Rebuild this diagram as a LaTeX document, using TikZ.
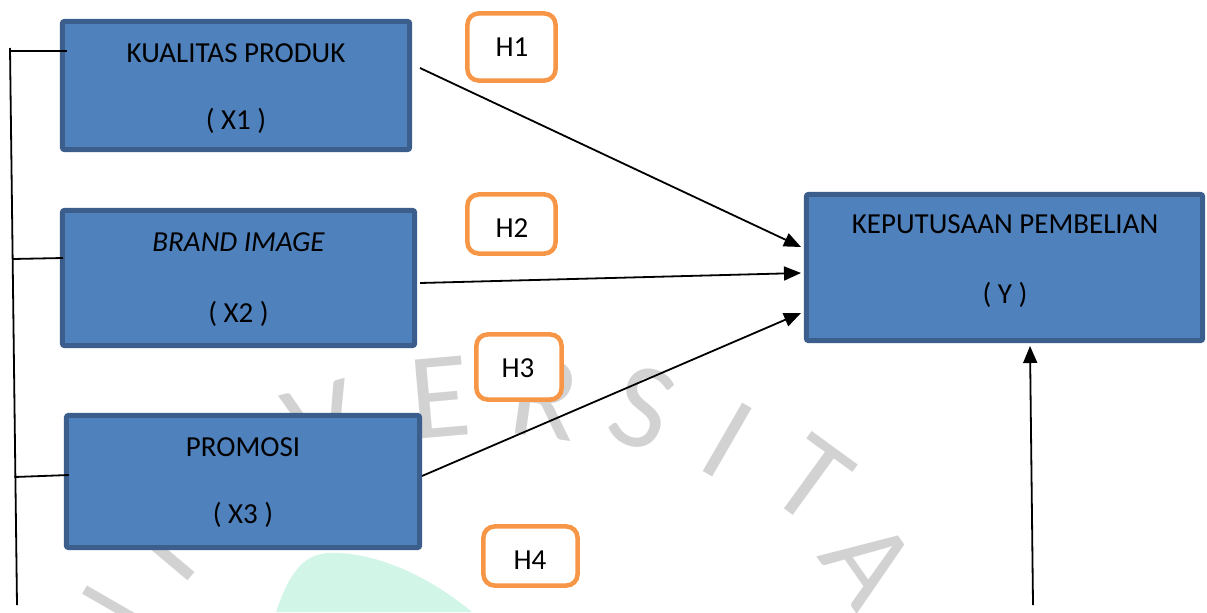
\documentclass[tikz,border=0pt]{standalone}
\usepackage{fontspec}
\setmainfont{Carlito}
\usetikzlibrary{arrows.meta}
\definecolor{boxfill}{HTML}{4F81BD}
\definecolor{boxline}{HTML}{3B5E8C}
\definecolor{horange}{HTML}{F79646}
\definecolor{wmgray}{HTML}{D2D2D2}
\definecolor{mint}{HTML}{D1F5E7}
\begin{document}
\begin{tikzpicture}[x=0.01cm,y=-0.01cm,
  varbox/.style={draw=boxline, fill=boxfill, line width=0.05cm, rounded corners=0.02cm, inner sep=0pt},
  hbox/.style={draw=horange, fill=white, line width=0.045cm, rounded corners=0.11cm, inner sep=0pt},
  lbl/.style={anchor=base, inner sep=0pt, font=\fontsize{8.25pt}{10pt}\selectfont},
  conn/.style={line width=0.018cm, draw=black},
  arr/.style={conn, -{Triangle[length=0.17cm,width=0.14cm]}},
  wm/.style={text=wmgray, font=\fontsize{35pt}{40pt}\selectfont, inner sep=0pt}
]
\useasboundingbox (0,0) rectangle (1207,612);
% watermark
\begin{scope}
  \clip (0,0) rectangle (1207,612);
  \fill[mint] (276,612) .. controls (295,555) and (315,552) .. (340,553)
              .. controls (390,556) and (440,585) .. (472,612) -- cycle;
  \node[wm, rotate=60] (wmN) at (106,632) {N};
  \node[wm, rotate=50] (wmI) at (161,551) {I};
  \node[wm, rotate=15] (wmV) at (322,425) {V};
  \node[wm, rotate=5] (wmE) at (440,398) {E};
  \node[wm, rotate=-8] (wmR) at (545,398) {R};
  \node[wm, rotate=-20] (wmS) at (643,408) {S};
  \node[wm, rotate=-30] (wmI2) at (728,440) {I};
  \node[wm, rotate=-36] (wmT) at (812,480) {T};
  \node[wm, rotate=-55] (wmA) at (869,563) {A};
\end{scope}
% variable boxes
\node[varbox, minimum width=3.47cm, minimum height=1.28cm] (x1) at (236,85.5) {};
\node[lbl] (x1t) at (236,62) {KUALITAS PRODUK};
\node[lbl] (x1c) at (236,129) {( X1 )};
\node[varbox, minimum width=3.52cm, minimum height=1.35cm] (x2) at (238.5,278) {};
\node[lbl] (x2t) at (238.5,251) {\itshape BRAND IMAGE};
\node[lbl] (x2c) at (238.5,322) {( X2 )};
\node[varbox, minimum width=3.53cm, minimum height=1.32cm] (x3) at (243,481.5) {};
\node[lbl] (x3t) at (243,456) {PROMOSI};
\node[lbl] (x3c) at (243,523) {( X3 )};
\node[varbox, minimum width=3.96cm, minimum height=1.46cm] (y) at (1004.5,267.5) {};
\node[lbl] (yt) at (1005,233) {KEPUTUSAAN PEMBELIAN};
\node[lbl] (yc) at (1005,303) {( Y )};
% hypothesis boxes
\node[hbox, minimum width=0.88cm, minimum height=0.67cm] (h1) at (511.5,47) {};
\node[lbl] (h1t) at (512,56) {H1};
\node[hbox, minimum width=0.88cm, minimum height=0.59cm] (h2) at (511.5,224) {};
\node[lbl] (h2t) at (512,237) {H2};
\node[hbox, minimum width=0.85cm, minimum height=0.65cm] (h3) at (519,367) {};
\node[lbl] (h3t) at (518,377) {H3};
\node[hbox, minimum width=0.94cm, minimum height=0.59cm] (h4) at (530.5,556) {};
\node[lbl] (h4t) at (530,569) {H4};
% arrows
\coordinate (a1s) at (420,68);  \coordinate (a1e) at (801,247);
\coordinate (a2s) at (420,283); \coordinate (a2e) at (801,273);
\coordinate (a3s) at (422,476); \coordinate (a3e) at (801,313);
\coordinate (a4s) at (1033,605); \coordinate (a4e) at (1030,346);
\draw[arr] (a1s) -- (a1e);
\draw[arr] (a2s) -- (a2e);
\draw[arr] (a3s) -- (a3e);
\draw[arr] (a4s) -- (a4e);
% left bracket
\coordinate (bt) at (10,48); \coordinate (bb) at (17,605);
\coordinate (b1) at (10,51);  \coordinate (b1e) at (67,51);
\coordinate (b2) at (12.5,259); \coordinate (b2e) at (63,258);
\coordinate (b3) at (14.5,477); \coordinate (b3e) at (69,475);
\draw[conn] (bt) -- (bb);
\draw[conn] (b1) -- (b1e);
\draw[conn] (b2) -- (b2e);
\draw[conn] (b3) -- (b3e);
\end{tikzpicture}
\end{document}
